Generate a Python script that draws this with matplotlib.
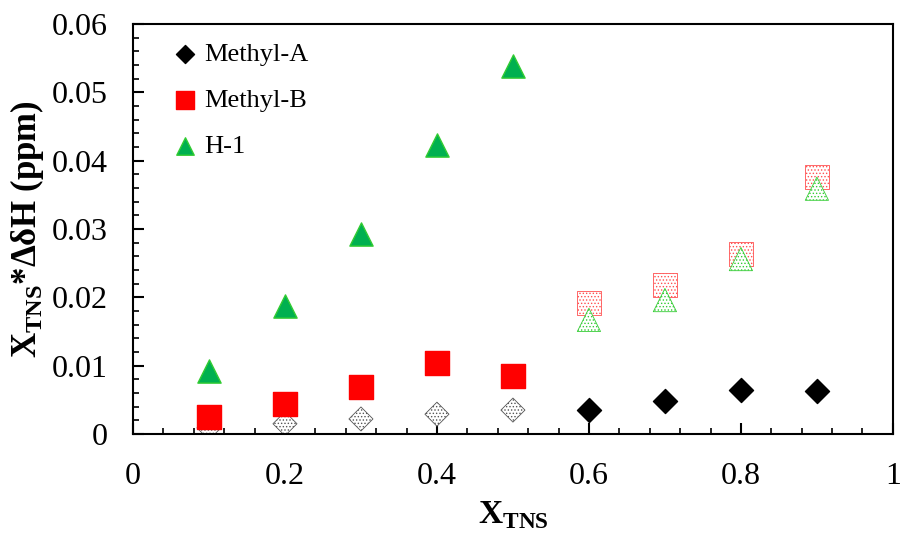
import matplotlib
matplotlib.use('Agg')
from matplotlib import pyplot as plt
from matplotlib.ticker import MultipleLocator

plt.rcParams['font.family'] = 'Liberation Serif'
plt.rcParams['mathtext.fontset'] = 'custom'
plt.rcParams['mathtext.rm'] = 'Liberation Serif'
plt.rcParams['mathtext.bf'] = 'Liberation Serif:bold'
plt.rcParams['hatch.linewidth'] = 0.6

# solid points (measured)
x_a = [0.6, 0.7, 0.8, 0.9]
y_a = [0.0035, 0.0048, 0.0064, 0.0063]
x_b = [0.1, 0.2, 0.3, 0.4, 0.5]
y_b = [0.0025, 0.0044, 0.0069, 0.0104, 0.0085]
x_h = [0.1, 0.2, 0.3, 0.4, 0.5]
y_h = [0.0092, 0.0187, 0.0293, 0.0423, 0.0539]

# hatched points
x_a2 = [0.1, 0.2, 0.3, 0.4, 0.5]
y_a2 = [0.0009, 0.0015, 0.0022, 0.0029, 0.0035]
x_b2 = [0.6, 0.7, 0.8, 0.9]
y_b2 = [0.0192, 0.0218, 0.0263, 0.0376]
x_h2 = [0.6, 0.7, 0.8, 0.9]
y_h2 = [0.0167, 0.0196, 0.0256, 0.0359]

xticks = [0, 0.2, 0.4, 0.6, 0.8, 1]
xtick_labels = ['0', '0.2', '0.4', '0.6', '0.8', '1']
yticks = [0, 0.01, 0.02, 0.03, 0.04, 0.05, 0.06]
ytick_labels = ['0', '0.01', '0.02', '0.03', '0.04', '0.05', '0.06']

fig = plt.figure(figsize=(9.01, 5.38), dpi=100)
ax = fig.add_axes([0.1476, 0.1933, 0.8434, 0.7621])

# hatched (open) markers
ax.scatter(x_a2, y_a2, marker='D', s=150, facecolor='white', edgecolor='#555555',
           hatch='.....', linewidth=0.6, zorder=2)
ax.scatter(x_b2, y_b2, marker='s', s=300, facecolor='white', edgecolor='#ff5050',
           hatch='.....', linewidth=0.6, zorder=2)
ax.scatter(x_h2, y_h2, marker='^', s=280, facecolor='white', edgecolor='#33cc33',
           hatch='.....', linewidth=0.6, zorder=2)

# solid markers
ax.scatter(x_a, y_a, marker='D', s=150, color='black', label='Methyl-A', zorder=3)
ax.scatter(x_b, y_b, marker='s', s=300, color='#ff0000', label='Methyl-B', zorder=3)
ax.scatter(x_h, y_h, marker='^', s=280, color='#00b050', edgecolor='#33cc33',
           linewidth=1, label='H-1', zorder=3)

ax.set_xlim(0, 1)
ax.set_ylim(0, 0.06)
ax.set_xticks(xticks)
ax.set_xticklabels(xtick_labels)
ax.set_yticks(yticks)
ax.set_yticklabels(ytick_labels)
ax.xaxis.set_minor_locator(MultipleLocator(0.04))
ax.yaxis.set_minor_locator(MultipleLocator(0.002))
ax.tick_params(which='major', direction='in', length=8, width=1.5, labelsize=23)
ax.tick_params(axis='x', which='major', pad=20)
ax.tick_params(axis='y', which='major', pad=18)
ax.tick_params(which='minor', direction='in', length=4, width=1.2)
for s in ax.spines.values():
    s.set_linewidth(1.5)

ax.set_xlabel(r'$\mathbf{X}_{\mathbf{TNS}}$', fontsize=24, labelpad=6)
ax.set_ylabel(r'$\mathbf{X}_{\mathbf{TNS}}$*ΔδH (ppm)', fontsize=25,
              fontweight='bold', labelpad=4)

ax.legend(loc='upper left', bbox_to_anchor=(0.01, 1.0), frameon=False, fontsize=19,
          handletextpad=-0.3, labelspacing=0.85, borderaxespad=0.4, scatterpoints=1,
          markerscale=0.75, borderpad=0.3)

plt.savefig('out.png', dpi=100)
